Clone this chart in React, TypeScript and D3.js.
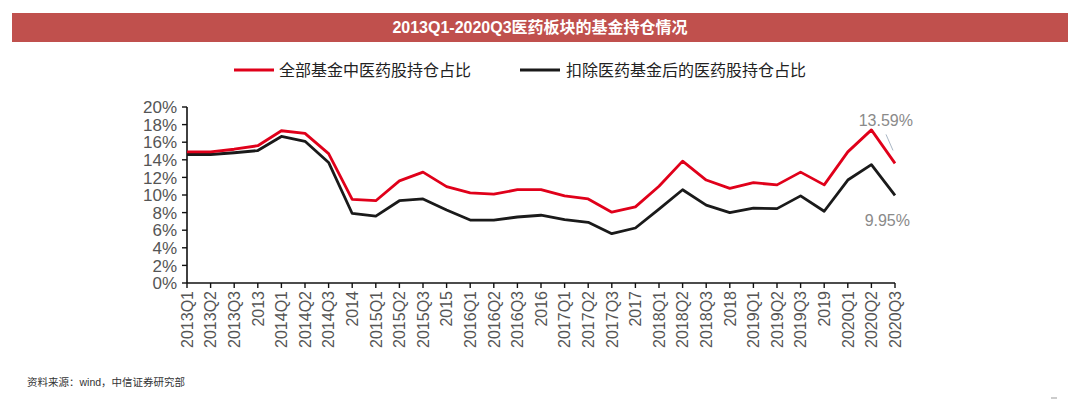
import * as d3 from "d3";

const categories = [
  "2013Q1", "2013Q2", "2013Q3", "2013",
  "2014Q1", "2014Q2", "2014Q3", "2014",
  "2015Q1", "2015Q2", "2015Q3", "2015",
  "2016Q1", "2016Q2", "2016Q3", "2016",
  "2017Q1", "2017Q2", "2017Q3", "2017",
  "2018Q1", "2018Q2", "2018Q3", "2018",
  "2019Q1", "2019Q2", "2019Q3", "2019",
  "2020Q1", "2020Q2", "2020Q3",
];

// 全部基金中医药股持仓占比 (%)
const allFunds = [
  14.9, 14.9, 15.2, 15.6, 17.3, 17.0, 14.7, 9.5, 9.35, 11.6, 12.6, 10.95,
  10.25, 10.1, 10.6, 10.6, 9.9, 9.55, 8.05, 8.65, 11.0, 13.85, 11.7, 10.75,
  11.4, 11.15, 12.6, 11.15, 14.9, 17.4, 13.59,
];

// 扣除医药基金后的医药股持仓占比 (%)
const exMedFunds = [
  14.6, 14.6, 14.8, 15.05, 16.65, 16.1, 13.7, 7.9, 7.6, 9.35, 9.55, 8.3,
  7.15, 7.15, 7.5, 7.7, 7.2, 6.9, 5.6, 6.25, 8.4, 10.6, 8.85, 8.0, 8.5, 8.45,
  9.9, 8.15, 11.7, 13.45, 9.95,
];

const seriesNames = ["全部基金中医药股持仓占比", "扣除医药基金后的医药股持仓占比"];
const yTicks = [0, 2, 4, 6, 8, 10, 12, 14, 16, 18, 20];

const FONT = '"Liberation Sans", Arial, "Noto Sans CJK SC", sans-serif';
const RED = "#e0001a";
const BLACK = "#1a1a1a";

export default function App() {
  const left = 187;
  const right = 895;
  const top = 107;
  const bottom = 283;

  const x = d3.scalePoint<string>().domain(categories).range([left, right]);
  const y = d3.scaleLinear().domain([0, 20]).range([bottom, top]);

  const line = d3
    .line<number>()
    .x((_, i) => x(categories[i]) ?? 0)
    .y((d) => y(d));

  const last = categories.length - 1;
  const lastX = x(categories[last]) ?? 0;

  return (
    <svg
      width={1080}
      height={400}
      style={{ position: "absolute", left: 0, top: 0, background: "#fff" }}
      fontFamily={FONT}
    >
      {/* title bar */}
      <rect x={12} y={13} width={1056} height={29} fill="#c0504d" />
      <text
        x={540}
        y={33}
        textAnchor="middle"
        fill="#fff"
        fontWeight="bold"
        fontSize={16}
      >
        2013Q1-2020Q3医药板块的基金持仓情况
      </text>

      {/* legend */}
      <line x1={234} x2={274} y1={70} y2={70} stroke={RED} strokeWidth={3} />
      <text x={279} y={76} fontSize={16} fill="#222">
        {seriesNames[0]}
      </text>
      <line x1={520} x2={560} y1={70} y2={70} stroke={BLACK} strokeWidth={3} />
      <text x={566} y={76} fontSize={16} fill="#222">
        {seriesNames[1]}
      </text>

      {/* y axis */}
      <line x1={left} x2={left} y1={top} y2={bottom} stroke="#111" strokeWidth={1.6} />
      {yTicks.map((t) => (
        <g key={t}>
          <line x1={left - 5} x2={left} y1={y(t)} y2={y(t)} stroke="#111" strokeWidth={1.4} />
          <text
            x={177}
            y={y(t)}
            dy="0.36em"
            textAnchor="end"
            fontSize={17}
            fill="#555"
          >
            {t}%
          </text>
        </g>
      ))}

      {/* x axis */}
      <line x1={left} x2={right} y1={bottom} y2={bottom} stroke="#111" strokeWidth={1.6} />
      {categories.map((c) => {
        const cx = x(c) ?? 0;
        return (
          <g key={c}>
            <line x1={cx} x2={cx} y1={bottom} y2={bottom + 5} stroke="#111" strokeWidth={1.4} />
            <text
              transform={`translate(${cx},${bottom + 8}) rotate(-90)`}
              textAnchor="end"
              dy="0.36em"
              fontSize={16}
              fill="#555"
            >
              {c}
            </text>
          </g>
        );
      })}

      {/* series */}
      <path d={line(exMedFunds) ?? ""} fill="none" stroke={BLACK} strokeWidth={2.8} strokeLinejoin="round" />
      <path d={line(allFunds) ?? ""} fill="none" stroke={RED} strokeWidth={2.8} strokeLinejoin="round" />

      {/* annotations */}
      <text x={lastX + 18} y={126} textAnchor="end" fontSize={16} fill="#8a8a8a">
        {allFunds[last].toFixed(2)}%
      </text>
      <line
        x1={lastX - 9}
        y1={y(allFunds[last]) - 29}
        x2={lastX - 2}
        y2={y(allFunds[last]) - 13}
        stroke="#a9b6c4"
        strokeWidth={1}
      />
      <text x={lastX + 15} y={226} textAnchor="end" fontSize={16} fill="#8a8a8a">
        {exMedFunds[last].toFixed(2)}%
      </text>

      {/* source */}
      <text x={27} y={386} fontSize={10.5} fill="#333">
        资料来源：wind，中信证券研究部
      </text>
      <line x1={1051} x2={1057} y1={398} y2={398} stroke="#999" strokeWidth={1} />
    </svg>
  );
}
